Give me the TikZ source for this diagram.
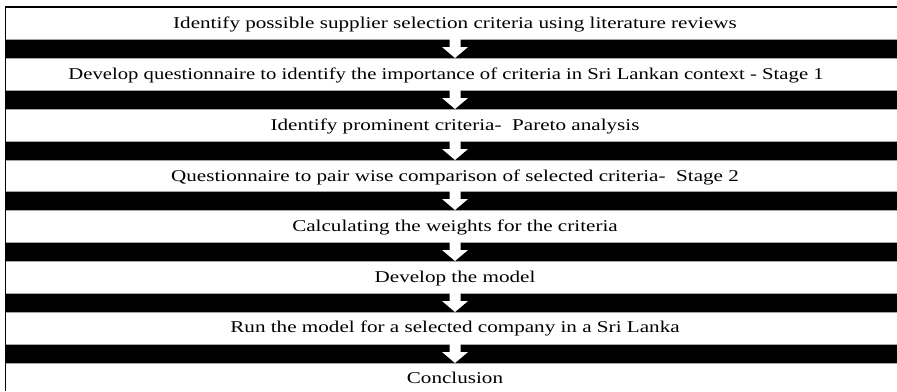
\documentclass[tikz,border=0pt]{standalone}
\usepackage{fontspec}
\setmainfont[FakeStretch=1.28]{Liberation Serif}
\begin{document}
\begin{tikzpicture}[x=1pt,y=-1pt,
  band/.style={fill=black, draw=gray!70, line width=0.6pt, minimum width=892pt, minimum height=19pt, inner sep=0pt, outer sep=0pt, anchor=north west},
  stepText/.style={font=\fontsize{16.5}{19}\selectfont, inner sep=0pt, anchor=base},
  downarrow/.pic={\fill[white] (-5.5,0) -- (5.5,0) -- (5.5,8) -- (13,8) -- (0,19) -- (-13,8) -- (-5.5,8) -- cycle;}]
\useasboundingbox (0,0) rectangle (897,391);
\fill[white] (0,0) rectangle (897,391);
% bands
\node[band] (b1) at (5,39) {};
\node[band] (b2) at (5,90) {};
\node[band] (b3) at (5,141) {};
\node[band] (b4) at (5,191) {};
\node[band] (b5) at (5,242) {};
\node[band] (b6) at (5,293) {};
\node[band] (b7) at (5,344) {};
% arrows
\foreach \b in {b1,b2,b3,b4,b5,b6,b7}{
  \path (\b.north west) ++(450,0) pic {downarrow};
}
% texts
\node[stepText] (s1) at (455,28.3) {Identify possible supplier selection criteria using literature reviews};
\node[stepText, xscale=0.98, transform shape] (s2) at (446,79.3) {Develop questionnaire to identify the importance of criteria in Sri Lankan context - Stage 1};
\node[stepText] (s3) at (455,130.3) {Identify prominent criteria-\ \ Pareto analysis};
\node[stepText] (s4) at (455,181.3) {Questionnaire to pair wise comparison of selected criteria-\ \ Stage 2};
\node[stepText] (s5) at (455,231.3) {Calculating the weights for the criteria};
\node[stepText] (s6) at (455,282.3) {Develop the model};
\node[stepText] (s7) at (455,332.8) {Run the model for a selected company in a Sri Lanka};
\node[stepText] (s8) at (455,383.8) {Conclusion};
% border
\draw[line width=1.3pt] (5.5,391) -- (5.5,7) -- (897,7);
\end{tikzpicture}
\end{document}
